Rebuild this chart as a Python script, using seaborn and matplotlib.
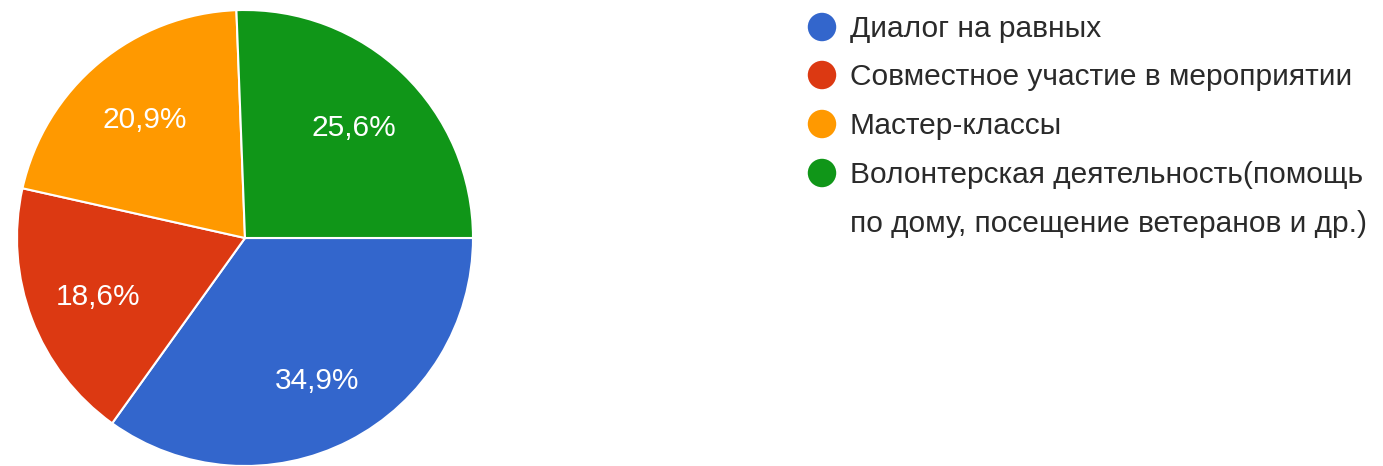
import seaborn as sns
import matplotlib.pyplot as plt

# data
categories = [
    "Диалог на равных",
    "Совместное участие в мероприятии",
    "Мастер-классы",
    "Волонтерская деятельность(помощь\nпо дому, посещение ветеранов и др.)",
]
shares = [34.9, 18.6, 20.9, 25.6]
colors = ["#3366CC", "#DC3912", "#FF9900", "#109618"]

sns.set_style("white")
plt.rcParams["font.family"] = ["Liberation Sans", "DejaVu Sans"]

W, H = 1383, 466
fig = plt.figure(figsize=(W / 100, H / 100), dpi=100)

# pie axes, centre ~ (245, 238) px, radius ~ 228 px
cx, cy, r = 245, 238, 228
ax = fig.add_axes([(cx - r) / W, (H - cy - r) / H, 2 * r / W, 2 * r / H])
ax.pie(
    shares,
    colors=colors,
    startangle=0,
    counterclock=False,
    radius=1,
    autopct=lambda p: f"{p:.1f}%".replace(".", ","),
    pctdistance=0.69,
    wedgeprops=dict(edgecolor="white", linewidth=1.5),
    textprops=dict(color="white", fontsize=21.5, va="center_baseline"),
)
ax.set_xlim(-1, 1)
ax.set_ylim(-1, 1)
ax.set_axis_off()

# legend, drawn in pixel coordinates
lax = fig.add_axes([0, 0, 1, 1])
lax.set_xlim(0, W)
lax.set_ylim(H, 0)
lax.set_axis_off()
ys = [27, 75, 124, 173]
lax.scatter([822] * len(ys), ys, s=420, c=colors, edgecolors="none")
for y, lab in zip(ys, categories):
    for i, line in enumerate(lab.split("\n")):
        lax.text(850, y + 10 + i * 49, line, fontsize=21.5, color="#2a2a2a",
                 va="baseline", ha="left")

fig.savefig("out.png", dpi=100)
